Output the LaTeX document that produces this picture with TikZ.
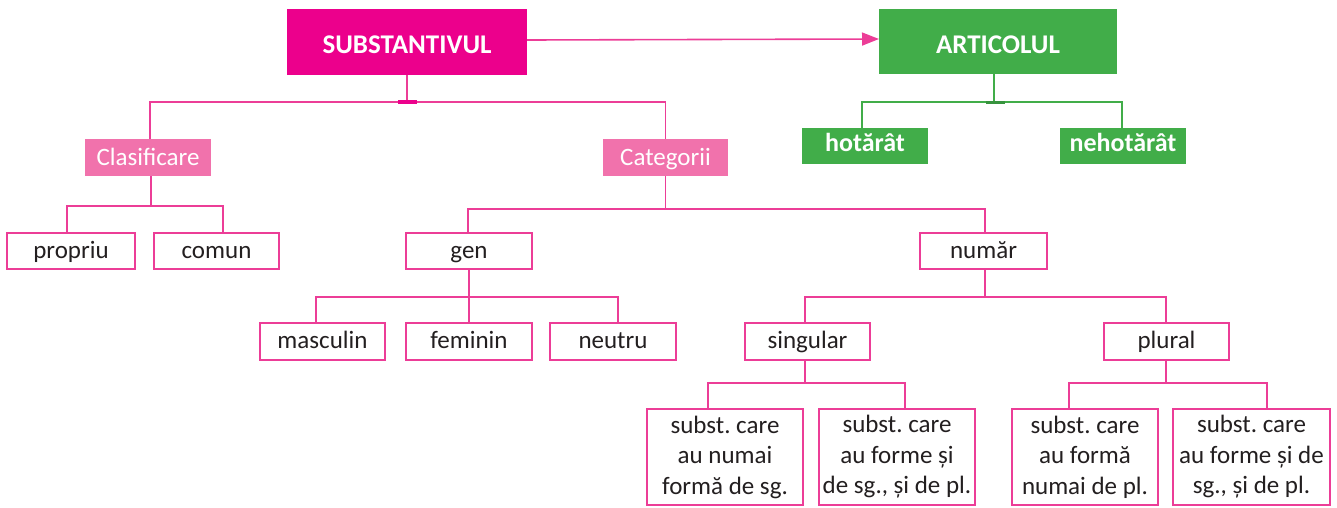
\documentclass[tikz,border=0pt]{standalone}
\usepackage{fontspec}
\setmainfont{Carlito}
\usetikzlibrary{arrows.meta}
\definecolor{mag}{HTML}{EC008C}
\definecolor{pinkfill}{HTML}{F172AC}
\definecolor{linec}{HTML}{EC3D97}
\definecolor{grn}{HTML}{41AD49}
\definecolor{txt}{HTML}{231F20}
\frenchspacing
\begin{document}
\begin{tikzpicture}[x=1pt,y=-1pt,
  base/.style={inner sep=0pt, outer sep=0pt, align=center},
  titlebox/.style={base, fill=mag, text=white, font=\fontsize{27}{30}\selectfont\bfseries, text height=23pt, text depth=0pt},
  gtitlebox/.style={base, fill=grn, text=white, font=\fontsize{27}{30}\selectfont\bfseries, text height=23pt, text depth=0pt},
  catbox/.style={base, fill=pinkfill, text=white, font=\fontsize{25}{30}\selectfont, text height=17pt, text depth=2pt},
  gbox/.style={base, fill=grn, text=white, font=\fontsize{26}{30}\selectfont\bfseries, text height=16pt, text depth=5.6pt},
  wbox/.style={base, draw=linec, line width=1.5pt, fill=white, text=txt, font=\fontsize{25}{30.5}\selectfont\frenchspacing},
  onebox/.style={wbox, text height=17pt, text depth=3pt},
  conn/.style={draw=linec, line width=1.6pt},
  gconn/.style={draw=grn, line width=1.3pt},
]
\useasboundingbox (0,0) rectangle (1337,507);

% top
\node[titlebox, minimum width=240pt, minimum height=66pt] (subst) at (407,42) {SUBSTANTIVUL};
\node[gtitlebox, minimum width=238pt, minimum height=65pt] (artic) at (998,41.5) {ARTICOLUL};
\node[gbox, minimum width=126pt, minimum height=36pt] (hot) at (865,146) {hotărât};
\node[gbox, minimum width=126pt, minimum height=36pt] (nehot) at (1123,146) {nehotărât};

% second level
\node[catbox, minimum width=126pt, minimum height=37pt] (clas) at (148,157.5) {Clasificare};
\node[catbox, minimum width=125pt, minimum height=37pt] (categ) at (665.5,157.5) {Categorii};

% third level
\node[onebox, minimum width=128pt, minimum height=36pt] (propriu) at (71,251) {propriu};
\node[onebox, minimum width=125pt, minimum height=36pt] (comun) at (216.5,251) {comun};
\node[onebox, minimum width=126pt, minimum height=36pt] (gen) at (469,251) {gen};
\node[onebox, minimum width=127pt, minimum height=36pt] (numar) at (983.5,251) {număr};

% fourth level
\node[onebox, minimum width=125pt, minimum height=37pt] (masc) at (322.5,341.5) {masculin};
\node[onebox, minimum width=126pt, minimum height=37pt] (fem) at (469,341.5) {feminin};
\node[onebox, minimum width=126pt, minimum height=37pt] (neutru) at (613,341.5) {neutru};
\node[onebox, minimum width=125pt, minimum height=37pt] (singular) at (807.5,341.5) {singular};
\node[onebox, minimum width=125pt, minimum height=37pt] (plural) at (1166.5,341.5) {plural};

% fifth level
\node[wbox, minimum width=156pt, minimum height=96pt] (s1) at (725,457) {subst. care\\au numai\\formă de sg.};
\node[wbox, minimum width=156pt, minimum height=96pt] (s2) at (897,457) {subst. care\\au forme și\\de sg., și de pl.};
\node[wbox, minimum width=146pt, minimum height=96pt] (p1) at (1085,457) {subst. care\\au formă\\numai de pl.};
\node[wbox, minimum width=157pt, minimum height=96pt] (p2) at (1251.5,457) {subst. care\\au forme și de\\sg., și de pl.};

% arrow
\draw[conn, -{Triangle[length=17pt,width=13pt]}] ([yshift=2pt]subst.east) -- ([yshift=2.5pt]artic.west);

% connectors substantivul
\coordinate (bus0) at (407,102);
\draw[conn] (subst.south) -- (bus0);
\draw[conn] ([xshift=2pt]clas.north) |- (bus0) -| (categ.north);
\fill[mag] (398,100) rectangle (417,104);

\coordinate (bus1) at (151,206);
\draw[conn] ([xshift=3pt]clas.south) -- (bus1);
\draw[conn] ([xshift=-4pt]propriu.north) |- (bus1) -| ([xshift=6.5pt]comun.north);

\coordinate (bus2) at (665.5,209);
\draw[conn] (categ.south) -- (bus2);
\draw[conn] ([xshift=-1pt]gen.north) |- (bus2) -| ([xshift=1.5pt]numar.north);

\coordinate (bus3) at (469,297);
\draw[conn] (gen.south) -- (bus3) -- (fem.north);
\draw[conn] ([xshift=-6.5pt]masc.north) |- (bus3) -| ([xshift=5pt]neutru.north);

\coordinate (bus4) at (985,297);
\draw[conn] ([xshift=1.5pt]numar.south) -- (bus4);
\draw[conn] ([xshift=-2.5pt]singular.north) |- (bus4) -| ([xshift=-0.5pt]plural.north);

\coordinate (bus5) at (805,383);
\draw[conn] ([xshift=-2.5pt]singular.south) -- (bus5);
\draw[conn] ([xshift=-17pt]s1.north) |- (bus5) -| ([xshift=8pt]s2.north);

\coordinate (bus6) at (1166,383);
\draw[conn] ([xshift=-0.5pt]plural.south) -- (bus6);
\draw[conn] ([xshift=-16pt]p1.north) |- (bus6) -| ([xshift=15.5pt]p2.north);

% articol connectors
\coordinate (gbus) at (994,102);
\draw[gconn] ([xshift=-4pt]artic.south) -- (gbus);
\draw[gconn] ([xshift=-3pt]hot.north) |- (gbus) -| ([xshift=-1pt]nehot.north);
\fill[grn!85!black] (986,100.5) rectangle (1005,103.5);
\end{tikzpicture}
\end{document}
